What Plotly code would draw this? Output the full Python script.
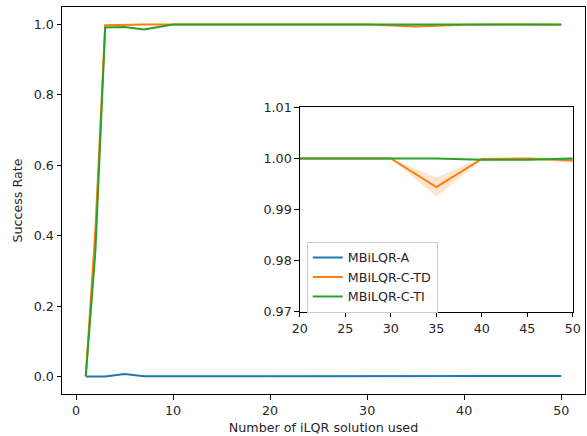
import plotly.graph_objects as go

x_vals = [1, 2, 3, 5, 7, 10, 15, 20, 25, 30, 35, 40, 45, 50]
series_names = ["MBiLQR-A", "MBiLQR-C-TD", "MBiLQR-C-TI"]
blue_a = [0, 0, 0, 0.007, 0.0005, 0.0005, 0.0005, 0.0015, 0.0008, 0.0008, 0.0008, 0.0012, 0.0012, 0.0010]
orange_td = [0, 0.42, 0.998, 1.0, 1.0, 1.0, 1.0, 1.0, 1.0, 1.0, 0.9944, 0.9999, 1.0, 0.9996]
orange_std = [0, 0.03, 0.002, 0.001, 0.0005, 0, 0, 0, 0, 0, 0.0019, 0.0002, 0.0002, 0.0004]
green_ti = [0, 0.36, 0.992, 0.993, 0.986, 1.0, 1.0, 1.0, 1.0, 1.0, 1.0, 0.99975, 0.99975, 1.0]
green_std = [0, 0.03, 0.002, 0.002, 0.002, 0, 0, 0, 0, 0, 0, 0.0002, 0.0002, 0.0002]

x_ticks_main = [0, 10, 20, 30, 40, 50]
y_ticks_main = [0.0, 0.2, 0.4, 0.6, 0.8, 1.0]
x_ticks_inset = [20, 25, 30, 35, 40, 45, 50]
y_ticks_inset = [0.97, 0.98, 0.99, 1.00, 1.01]

colors = ["#1f77b4", "#ff7f0e", "#2ca02c"]
fills = ["rgba(31,119,180,0.2)", "rgba(255,127,14,0.2)", "rgba(44,160,44,0.2)"]
FS = 12.7
font_family = "DejaVu Sans"

fig = go.Figure()

means = [blue_a, orange_td, green_ti]
stds = [[0] * len(x_vals), orange_std, green_std]

for xa, ya, show in [("x", "y", False), ("x2", "y2", True)]:
    for i in range(3):
        if i > 0:
            lo = [m - s for m, s in zip(means[i], stds[i])]
            hi = [m + s for m, s in zip(means[i], stds[i])]
            fig.add_trace(go.Scatter(x=x_vals, y=lo, mode="lines", line=dict(width=0, color=fills[i]),
                                     showlegend=False, hoverinfo="skip", xaxis=xa, yaxis=ya))
            fig.add_trace(go.Scatter(x=x_vals, y=hi, mode="lines", line=dict(width=0, color=fills[i]),
                                     fill="tonexty", fillcolor=fills[i],
                                     showlegend=False, hoverinfo="skip", xaxis=xa, yaxis=ya))
    for i in range(3):
        fig.add_trace(go.Scatter(x=x_vals, y=means[i], mode="lines", name=series_names[i],
                                 line=dict(color=colors[i], width=2), showlegend=show,
                                 xaxis=xa, yaxis=ya))

axis_common = dict(showline=True, mirror=True, linecolor="black", linewidth=1,
                   ticks="outside", ticklen=4.5, tickwidth=1, tickcolor="black",
                   showgrid=False, zeroline=False, automargin=False,
                   tickfont=dict(size=FS, color="#262626"))

fig.update_layout(
    width=587, height=436,
    margin=dict(l=62, r=2, t=7, b=42),
    paper_bgcolor="white", plot_bgcolor="white",
    font=dict(family=font_family, size=FS, color="#262626"),
    xaxis=dict(domain=[0, 1], range=[-1.45, 52.45], tickvals=x_ticks_main,
               ticktext=[str(v) for v in x_ticks_main],
               title=dict(text="Number of iLQR solution used", font=dict(size=FS), standoff=6),
               **axis_common),
    yaxis=dict(domain=[0, 1], range=[-0.05, 1.05], tickvals=y_ticks_main,
               ticktext=[f"{v:.1f}" for v in y_ticks_main],
               title=dict(text="Success Rate", font=dict(size=FS), standoff=8),
               **axis_common),
    xaxis2=dict(domain=[0.4546, 0.9767], range=[20, 50], tickvals=x_ticks_inset,
                ticktext=[str(v) for v in x_ticks_inset], anchor="y2", **axis_common),
    yaxis2=dict(domain=[0.2119, 0.7408], range=[0.97, 1.01], tickvals=y_ticks_inset,
                ticktext=[f"{v:.2f}" for v in y_ticks_inset], anchor="x2", **axis_common),
    legend=dict(x=0.468, y=0.3936, xanchor="left", yanchor="top", traceorder="normal",
                bgcolor="rgba(255,255,255,0.8)", bordercolor="#cccccc", borderwidth=1,
                font=dict(size=FS), tracegroupgap=0, itemwidth=30),
)

fig.write_html("out.html", config={"displayModeBar": False},
               post_script="document.body.style.margin='0';")
